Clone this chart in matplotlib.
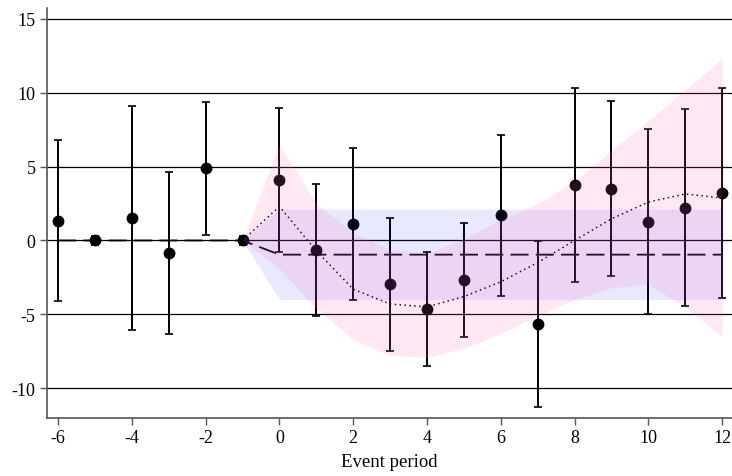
import numpy as np
import matplotlib.pyplot as plt

plt.rcParams['font.family'] = ['Liberation Serif', 'DejaVu Serif']

# event-study estimates
periods = [-6, -5, -4, -3, -2, -1, 0, 1, 2, 3, 4, 5, 6, 7, 8, 9, 10, 11, 12]
coef = [1.3, 0.0, 1.55, -0.85, 4.9, 0.0, 4.1, -0.64, 1.12, -2.97, -4.64, -2.7,
        1.71, -5.66, 3.76, 3.49, 1.28, 2.23, 3.2]
ci_hi = [6.8, 0.3, 9.1, 4.65, 9.4, 0.3, 9.0, 3.83, 6.27, 1.55, -0.78, 1.16,
         7.17, -0.03, 10.34, 9.41, 7.56, 8.92, 10.34]
ci_lo = [-4.1, -0.3, -6.05, -6.35, 0.4, -0.3, -0.8, -5.1, -4.0, -7.47, -8.49, -6.52,
         -3.74, -11.3, -2.79, -2.41, -4.96, -4.46, -3.92]

# flat (dashed) fit and its band
flat_x = [-6, -1, 0, 12]
flat_y = [0, 0, -0.96, -0.96]
flat_band_x = [-1, 0, 12]
flat_band_lo = [0, -4.0, -4.0]
flat_band_hi = [0, 2.13, 2.13]

# smooth (dotted) fit and its band
smooth_x = [-1, 0, 1, 2, 3, 4, 5, 6, 7, 8, 9, 10, 11, 12]
smooth_y = [0, 2.3, -0.7, -3.3, -4.3, -4.5, -3.8, -2.8, -1.5, 0.0, 1.46, 2.6, 3.15, 2.88]
smooth_lo = [0, -1.9, -4.6, -6.7, -7.8, -7.9, -7.3, -6.3, -5.1, -4.0, -3.2, -2.95, -4.5, -6.5]
smooth_hi = [0, 6.5, 2.5, 0.5, -0.6, -0.9, 0.1, 1.4, 2.5, 4.0, 6.1, 8.1, 10.2, 12.3]

fig = plt.figure(figsize=(7.32, 4.77), dpi=100)
ax = fig.add_axes([0.0638, 0.1216, 0.9362, 0.8589])

for yv in [-10, -5, 0, 5, 10, 15]:
    ax.axhline(yv, color='black', lw=0.9, zorder=1)

ax.plot(flat_x, flat_y, color='black', lw=1.3, dashes=(10, 4), zorder=2)
ax.plot(smooth_x, smooth_y, color='black', lw=1.1, ls=(0, (1, 2.2)), zorder=2)

ax.errorbar(periods, coef,
            yerr=[np.array(coef) - np.array(ci_lo), np.array(ci_hi) - np.array(coef)],
            fmt='o', color='black', ms=7.5, elinewidth=1.4, capsize=3, capthick=1.2,
            zorder=3)

ax.fill_between(flat_band_x, flat_band_lo, flat_band_hi, color='#0000ff', alpha=0.09,
                lw=0, zorder=4)
ax.fill_between(smooth_x, smooth_lo, smooth_hi, color='#ff69b4', alpha=0.15,
                lw=0, zorder=4)

ax.set_xlim(-6.31, 12.27)
ax.set_ylim(-12.02, 15.72)
ax.set_xticks(range(-6, 13, 2))
ax.set_yticks([-10, -5, 0, 5, 10, 15])
ax.set_xticklabels([str(v) for v in range(-6, 13, 2)])
ax.set_yticklabels(['-10', '-5', '0', '5', '10', '15'])

for s in ['top', 'right']:
    ax.spines[s].set_visible(False)
for s in ['left', 'bottom']:
    ax.spines[s].set_color('#555555')
    ax.spines[s].set_linewidth(1.2)
ax.tick_params(axis='both', direction='out', length=5, width=1.0, color='#555555',
               labelsize=13, pad=3)
ax.set_xlabel('Event period', fontsize=13.5, labelpad=5)

fig.savefig('out.png', dpi=100)
